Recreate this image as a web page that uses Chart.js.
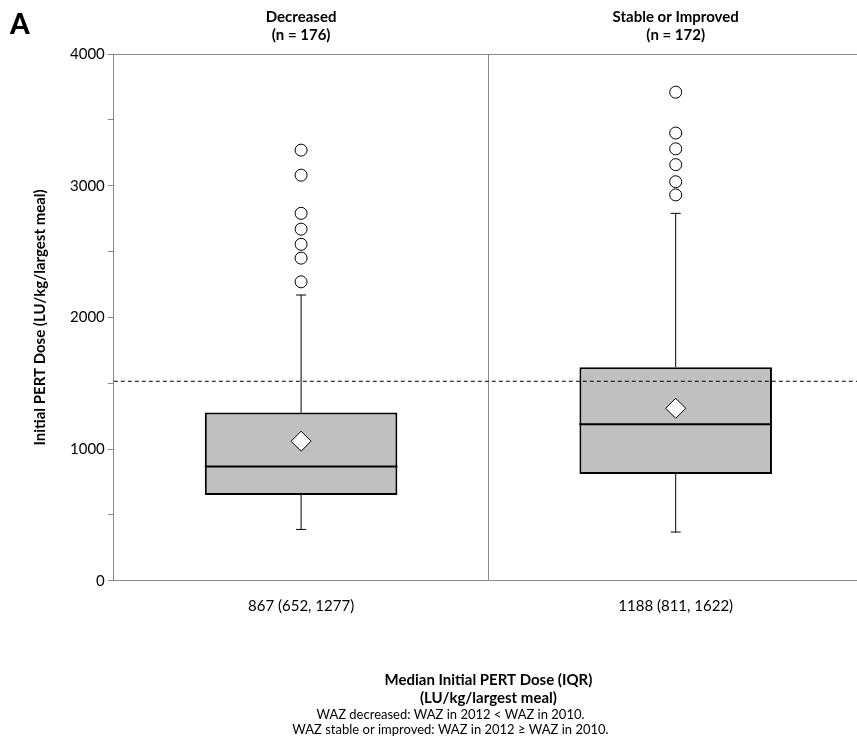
<!DOCTYPE html>
<html>
<head>
<meta charset="utf-8">
<script src="https://cdn.jsdelivr.net/npm/chart.js@4/dist/chart.umd.min.js"></script>
<style>
  body { margin: 0; background: #fff; overflow: hidden; }
  #wrap { position: relative; width: 857px; height: 740px; overflow: hidden; }
  #tag { position: absolute; left: 10px; top: 6px; font: 900 28px Lato, sans-serif; }
</style>
</head>
<body>
<div id="wrap">
  <div id="tag">A</div>
  <canvas id="box" width="874" height="740"></canvas>
</div>
<script>
// ---------- DATA ----------
const groups = ['Decreased', 'Stable or Improved'];
const groupN = ['(n = 176)', '(n = 172)'];
const iqrLabels = ['867 (652, 1277)', '1188 (811, 1622)'];
const q1 = [652, 811];
const median = [867, 1188];
const q3 = [1277, 1622];
const mean = [1060, 1310];
const whiskerLow = [390, 370];
const whiskerHigh = [2170, 2790];
const outliersDecreased = [2270, 2450, 2555, 2670, 2790, 3080, 3270];
const outliersStable = [2930, 3030, 3160, 3280, 3400, 3710];
const refLine = 1515;

const FONT = 'Lato, "Open Sans", sans-serif';

// whiskers, medians, reference line
const boxExtras = {
  id: 'boxExtras',
  afterDatasetsDraw(chart) {
    const { ctx, chartArea, scales: { x, y } } = chart;
    ctx.save();
    ctx.strokeStyle = '#000';
    iqrLabels.forEach((lab, i) => {
      const cx = x.getPixelForValue(i);
      const half = (x.getPixelForValue(1) - x.getPixelForValue(0)) * 0.257;
      ctx.lineWidth = 1;
      ctx.beginPath();
      ctx.moveTo(cx, y.getPixelForValue(q3[i])); ctx.lineTo(cx, y.getPixelForValue(whiskerHigh[i]));
      ctx.moveTo(cx, y.getPixelForValue(q1[i])); ctx.lineTo(cx, y.getPixelForValue(whiskerLow[i]));
      ctx.moveTo(cx - 5, y.getPixelForValue(whiskerHigh[i])); ctx.lineTo(cx + 5, y.getPixelForValue(whiskerHigh[i]));
      ctx.moveTo(cx - 5, y.getPixelForValue(whiskerLow[i])); ctx.lineTo(cx + 5, y.getPixelForValue(whiskerLow[i]));
      ctx.stroke();
      ctx.lineWidth = 2;
      ctx.beginPath();
      ctx.moveTo(cx - half, y.getPixelForValue(median[i])); ctx.lineTo(cx + half, y.getPixelForValue(median[i]));
      ctx.stroke();
    });
    ctx.lineWidth = 1;
    ctx.setLineDash([4, 3]);
    ctx.beginPath();
    ctx.moveTo(chartArea.left, y.getPixelForValue(refLine));
    ctx.lineTo(chartArea.right, y.getPixelForValue(refLine));
    ctx.stroke();
    ctx.restore();
  }
};

new Chart(document.getElementById('box'), {
  data: {
    labels: iqrLabels,
    datasets: [
      {
        type: 'bar',
        data: q1.map((v, i) => [v, q3[i]]),
        backgroundColor: '#c0c0c0',
        borderColor: '#000',
        borderWidth: 2,
        borderSkipped: false,
        barPercentage: 0.514,
        categoryPercentage: 1,
        order: 3
      },
      {
        type: 'line',
        data: mean.map((v, i) => ({ x: iqrLabels[i], y: v })),
        showLine: false,
        pointStyle: 'rectRot',
        pointRadius: 10,
        backgroundColor: '#fff',
        borderColor: '#000',
        borderWidth: 1,
        order: 1
      },
      {
        type: 'line',
        data: outliersDecreased.map(v => ({ x: iqrLabels[0], y: v }))
          .concat(outliersStable.map(v => ({ x: iqrLabels[1], y: v }))),
        showLine: false,
        pointStyle: 'circle',
        pointRadius: 6,
        backgroundColor: '#fff',
        borderColor: '#000',
        borderWidth: 1,
        order: 1
      }
    ]
  },
  options: {
    responsive: false,
    animation: false,
    layout: { padding: { left: 27, right: 0, top: 6, bottom: 0 } },
    plugins: {
      legend: { display: false },
      tooltip: { enabled: false },
      subtitle: {
        display: true,
        position: 'bottom',
        text: ['WAZ decreased: WAZ in 2012 < WAZ in 2010.', 'WAZ stable or improved: WAZ in 2012 ≥ WAZ in 2010.'],
        color: '#000',
        font: { family: FONT, size: 13 },
        padding: { top: 0, bottom: 2 }
      }
    },
    scales: {
      x: {
        type: 'category',
        offset: true,
        grid: { offset: true, color: '#888', drawTicks: false },
        border: { color: '#888' },
        ticks: { color: '#000', font: { family: FONT, size: 15 }, padding: 16 },
        title: {
          display: true,
          text: ['Median Initial PERT Dose (IQR)', '(LU/kg/largest meal)'],
          color: '#000',
          font: { family: FONT, size: 15, weight: 'bold' },
          padding: { top: 40, bottom: 0 }
        }
      },
      x2: {
        type: 'category',
        position: 'top',
        labels: groups.map((g, i) => [g, groupN[i]]),
        offset: true,
        grid: { display: false },
        border: { color: '#888' },
        ticks: { color: '#000', font: { family: FONT, size: 15, weight: 'bold' }, padding: 2 }
      },
      y: {
        min: 0,
        max: 4000,
        border: { color: '#888' },
        grid: { drawOnChartArea: false, color: '#888', tickLength: 6 },
        ticks: {
          stepSize: 500,
          color: '#000',
          font: { family: FONT, size: 15 },
          callback: v => (v % 1000 === 0 ? v : '')
        },
        title: {
          display: true,
          text: 'Initial PERT Dose (LU/kg/largest meal)',
          color: '#000',
          font: { family: FONT, size: 15, weight: 'bold' },
          padding: { bottom: 18 }
        }
      }
    }
  },
  plugins: [boxExtras]
});
</script>
</body>
</html>
